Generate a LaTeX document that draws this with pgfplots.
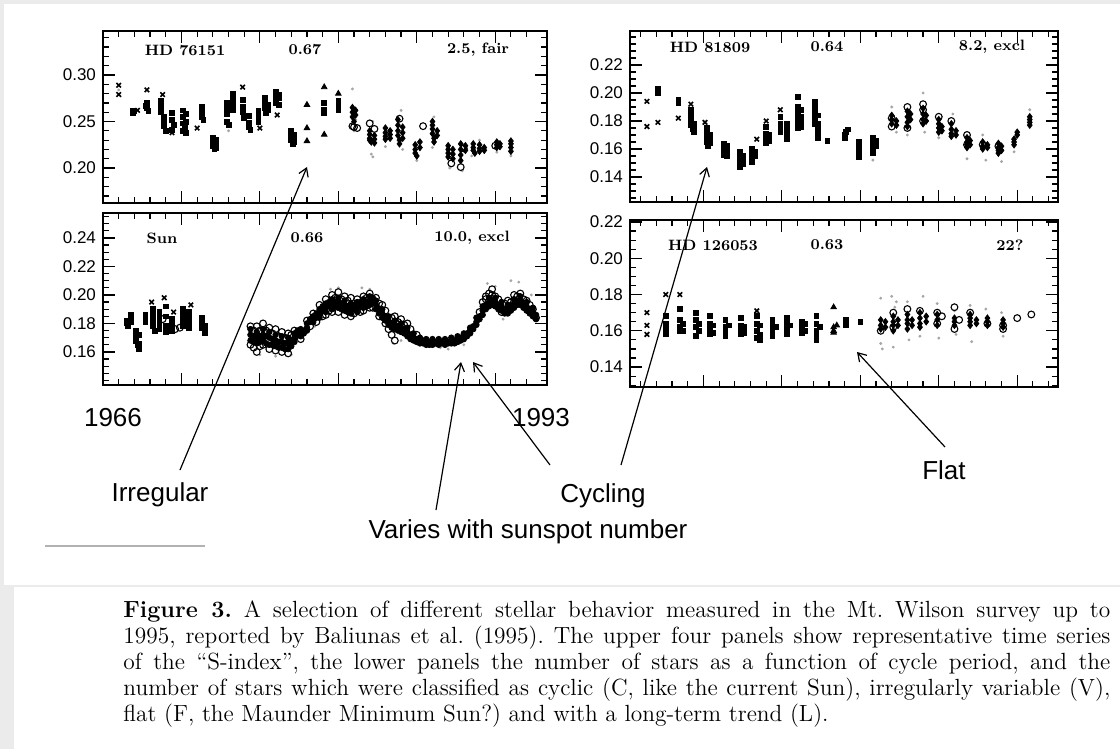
\documentclass[border=0pt]{standalone}
\usepackage{fontspec}
\usepackage{pgfplots}
\pgfplotsset{compat=1.18}
\usetikzlibrary{arrows.meta}
\newfontfamily\sansf{Liberation Sans}
\newcommand\tickfont{\sansf\fontsize{8.5}{9}\selectfont}
\newcommand\labfont{\sansf\fontsize{13}{15}\selectfont}
\newcommand\panfont{\bfseries\fontsize{7.5}{8}\selectfont}
\pgfplotsset{
 panel/.style={scale only axis, anchor=north west,
  axis line style={line width=0.9pt},
  tick align=inside, major tick length=6pt, minor tick length=3pt,
  every tick/.style={black, line width=0.6pt},
  xtick={1970,1975,...,1990}, minor xtick={1966,1967,...,1992}, xticklabels={},
  /pgf/number format/assume math mode=true,
  yticklabel style={font=\tickfont, /pgf/number format/fixed, /pgf/number format/fixed zerofill, /pgf/number format/precision=2},
  clip=true},
 sq/.style={only marks, mark=square*, mark size=1.2pt, black},
 xm/.style={only marks, mark=x, mark size=1.6pt, black, mark options={line width=0.8pt}},
 tr/.style={only marks, mark=triangle*, mark size=1.6pt, black},
 ci/.style={only marks, mark=o, mark size=1.7pt, black, mark options={line width=0.55pt}},
 dm/.style={only marks, mark=diamond*, mark size=1.6pt, black},
 gd/.style={only marks, mark=*, mark size=0.5pt, black!35},
 fd/.style={only marks, mark=*, mark size=1.4pt, black},
}
\begin{document}
\begin{tikzpicture}
\useasboundingbox (0,0) rectangle (560pt,-374.5pt);
\fill[black!8] (0,0) rectangle (560pt,-374.5pt);
\fill[white] (2pt,-2pt) rectangle (560pt,-292.5pt);
\fill[white] (7pt,-293.5pt) rectangle (560pt,-374.5pt);

% ---------- HD 76151 ----------
\begin{axis}[panel, at={(51.5pt,-15.5pt)}, width=222pt, height=86pt,
  xmin=1965, xmax=1993.3, ymin=0.1624, ymax=0.3473,
  ytick={0.20,0.25,0.30}, minor ytick={0.17,0.18,0.19,0.21,0.22,0.23,0.24,0.26,0.27,0.28,0.29,0.31,0.32,0.33,0.34}]
\addplot[gd] coordinates {(1966.0,0.284)(1973.0,0.240)(1980.9,0.285)(1981.0,0.240)(1982.1,0.215)(1982.2,0.212)(1983.0,0.223)(1984.0,0.262)(1984.1,0.220)(1985.0,0.208)(1986.0,0.222)(1986.1,0.255)(1987.1,0.200)(1987.9,0.197)(1988.5,0.213)(1989.0,0.230)(1990.1,0.217)(1991.0,0.213)(1981.1,0.252)(1982.2,0.250)};
\addplot[xm] coordinates {(1966.0,0.289)(1966.0,0.279)(1967.8,0.284)(1968.8,0.279)(1971.0,0.243)(1973.9,0.287)(1975.0,0.243)(1976.1,0.257)(1967.2,0.262)(1969.4,0.238)};
\addplot[sq] coordinates {(1966.9,0.262)(1966.9,0.259)(1967.0,0.261)
(1967.8,0.270)(1967.8,0.265)(1967.9,0.261)(1967.7,0.267)
(1968.7,0.272)(1968.7,0.266)(1968.7,0.260)
(1968.9,0.255)(1968.9,0.250)(1968.9,0.245)(1969.0,0.240)
(1969.4,0.259)(1969.4,0.252)(1969.5,0.246)(1969.4,0.241)
(1970.1,0.262)(1970.1,0.255)(1970.1,0.248)(1970.2,0.243)(1970.1,0.240)
(1970.3,0.258)(1970.3,0.250)(1970.3,0.238)
(1971.3,0.266)(1971.3,0.260)(1971.3,0.255)(1971.4,0.252)
(1972.0,0.232)(1972.0,0.228)(1972.0,0.224)(1972.1,0.220)
(1972.2,0.230)(1972.2,0.226)(1972.2,0.222)
(1972.9,0.270)(1972.9,0.265)(1972.9,0.258)(1972.9,0.250)(1973.0,0.246)
(1973.3,0.280)(1973.3,0.274)(1973.3,0.268)(1973.3,0.262)
(1973.9,0.273)(1973.9,0.266)(1973.9,0.260)(1974.0,0.254)
(1974.3,0.256)(1974.3,0.249)(1974.3,0.244)(1974.4,0.241)
(1974.9,0.262)(1974.9,0.256)(1974.9,0.250)
(1975.3,0.276)(1975.3,0.270)(1975.3,0.264)(1975.4,0.259)
(1975.5,0.268)(1975.5,0.262)
(1976.0,0.282)(1976.0,0.278)(1976.0,0.274)(1976.0,0.270)
(1976.2,0.279)(1976.2,0.275)(1976.2,0.268)
(1977.0,0.240)(1977.0,0.235)(1977.0,0.230)(1977.1,0.226)
(1977.2,0.236)(1977.2,0.232)(1977.2,0.228)
(1979.1,0.270)(1979.1,0.263)(1979.1,0.259)
(1980.0,0.272)(1980.0,0.266)(1980.0,0.262)};
\addplot[tr] coordinates {(1978.0,0.268)(1978.0,0.243)(1978.0,0.229)(1979.1,0.287)(1979.1,0.236)(1980.0,0.280)};
\addplot[dm] coordinates {(1980.9,0.265)(1980.9,0.260)(1980.9,0.255)(1981.0,0.250)
(1981.1,0.262)(1981.1,0.257)
(1982.0,0.240)(1982.0,0.236)(1982.0,0.232)(1982.0,0.230)(1982.1,0.228)
(1982.3,0.235)(1982.3,0.231)(1982.3,0.227)
(1983.0,0.243)(1983.0,0.238)(1983.0,0.234)(1983.0,0.231)
(1983.3,0.240)(1983.3,0.236)(1983.3,0.232)
(1983.8,0.252)(1983.8,0.246)(1983.8,0.240)(1983.8,0.235)(1983.9,0.230)(1983.9,0.226)
(1984.1,0.244)(1984.1,0.238)(1984.1,0.232)
(1984.9,0.225)(1984.9,0.220)(1984.9,0.216)(1985.0,0.213)
(1985.2,0.228)(1985.2,0.222)
(1986.0,0.250)(1986.0,0.246)(1986.0,0.242)(1986.0,0.237)(1986.1,0.232)(1986.1,0.228)
(1986.3,0.240)(1986.3,0.235)
(1987.0,0.224)(1987.0,0.220)(1987.0,0.216)(1987.0,0.212)
(1987.3,0.220)(1987.3,0.215)(1987.3,0.210)
(1987.8,0.226)(1987.8,0.220)(1987.8,0.214)(1987.8,0.208)
(1988.1,0.224)(1988.1,0.219)
(1988.6,0.226)(1988.6,0.222)(1988.6,0.219)(1988.7,0.216)
(1989.0,0.225)(1989.0,0.221)(1989.0,0.218)
(1989.3,0.222)(1989.3,0.219)
(1990.1,0.228)(1990.1,0.225)(1990.1,0.222)
(1990.3,0.226)(1990.3,0.223)
(1991.0,0.229)(1991.0,0.226)(1991.0,0.222)(1991.0,0.218)};
\addplot[ci] coordinates {(1980.9,0.245)(1981.2,0.243)(1982.0,0.248)(1982.3,0.242)(1983.9,0.253)(1985.4,0.245)(1987.2,0.205)(1987.8,0.201)(1988.0,0.221)(1990.0,0.224)(1981.0,0.244)};
\end{axis}

% ---------- Sun ----------
\begin{axis}[panel, at={(51.5pt,-106.5pt)}, width=222pt, height=86pt,
  xmin=1965, xmax=1993.3, ymin=0.1368, ymax=0.2575,
  ytick={0.16,0.18,0.20,0.22,0.24}, minor ytick={0.14,0.145,0.15,0.155,0.165,0.17,0.175,0.185,0.19,0.195,0.205,0.21,0.215,0.225,0.23,0.235,0.245,0.25,0.255}]
\addplot[gd] coordinates {(1989.5,0.208)(1990.0,0.206)(1991.5,0.209)(1991.0,0.210)(1980.0,0.205)(1979.5,0.204)(1981.5,0.205)(1975.0,0.158)(1977.0,0.158)(1983.5,0.166)(1986.5,0.163)(1987.0,0.162)(1988.0,0.165)(1982.0,0.204)(1992.3,0.200)(1978.5,0.178)(1984.0,0.168)(1976.0,0.157)(1990.5,0.183)};
\addplot[xm] coordinates {(1968.1,0.195)(1968.9,0.198)(1970.6,0.193)(1969.5,0.188)};
\addplot[sq] coordinates {(1966.5,0.182)(1966.5,0.180)(1966.6,0.178)
(1966.8,0.186)(1966.8,0.183)(1966.8,0.181)
(1967.1,0.175)(1967.1,0.171)(1967.1,0.168)(1967.2,0.165)
(1967.3,0.172)(1967.3,0.166)(1967.3,0.162)
(1967.7,0.186)(1967.7,0.184)(1967.7,0.181)
(1968.2,0.190)(1968.2,0.186)(1968.2,0.182)(1968.2,0.178)(1968.3,0.175)
(1968.6,0.188)(1968.6,0.184)(1968.6,0.180)(1968.6,0.176)
(1969.0,0.192)(1969.0,0.185)(1969.0,0.178)(1969.0,0.174)
(1969.4,0.183)(1969.4,0.180)(1969.4,0.177)(1969.4,0.175)
(1970.1,0.190)(1970.1,0.186)(1970.1,0.182)(1970.1,0.178)
(1970.5,0.188)(1970.5,0.184)(1970.5,0.180)(1970.5,0.177)
(1971.3,0.184)(1971.3,0.180)(1971.3,0.177)
(1971.5,0.178)(1971.5,0.175)(1971.5,0.173)};
\addplot[ci] coordinates {(1969.6,0.176)(1969.9,0.177)(1968.8,0.183)
(1974.4,0.178)(1974.4,0.165)(1974.6,0.175)(1974.6,0.163)(1974.8,0.160)(1974.8,0.178)(1975.0,0.175)(1975.0,0.164)
(1975.2,0.180)(1975.2,0.165)(1975.4,0.175)(1975.6,0.162)(1975.6,0.177)(1975.8,0.173)(1976.0,0.176)(1976.0,0.161)
(1976.2,0.171)(1976.4,0.160)(1976.4,0.174)(1976.6,0.170)(1976.8,0.159)(1976.8,0.173)(1977.0,0.172)(1977.2,0.175)
(1977.6,0.169)(1978.0,0.182)(1978.2,0.178)(1978.4,0.187)(1978.6,0.181)(1978.8,0.193)(1979.0,0.185)
(1979.2,0.197)(1979.2,0.186)(1979.4,0.189)(1979.6,0.200)(1979.6,0.188)(1979.8,0.198)(1980.0,0.202)(1980.0,0.188)
(1980.2,0.197)(1980.4,0.186)(1980.4,0.199)(1980.6,0.196)(1980.8,0.185)(1980.8,0.198)(1981.0,0.187)(1981.2,0.197)
(1981.4,0.188)(1981.6,0.199)(1981.6,0.189)(1981.8,0.198)(1982.0,0.201)(1982.0,0.191)(1982.2,0.191)(1982.4,0.198)
(1982.6,0.194)(1982.6,0.185)(1982.8,0.193)(1983.0,0.189)(1983.0,0.180)(1983.2,0.176)(1983.4,0.184)(1983.4,0.172)
(1983.6,0.168)(1983.6,0.185)(1983.8,0.181)(1984.0,0.183)(1984.2,0.179)(1984.4,0.180)(1984.6,0.176)(1985.0,0.172)
(1989.0,0.188)(1989.2,0.195)(1989.4,0.197)(1989.4,0.199)(1989.6,0.201)(1989.8,0.200)(1989.8,0.204)(1990.0,0.199)
(1990.2,0.197)(1990.4,0.188)(1990.6,0.194)(1990.8,0.196)(1991.0,0.195)(1991.2,0.200)(1991.4,0.199)(1991.6,0.201)
(1991.8,0.197)(1992.0,0.196)(1992.2,0.193)(1992.4,0.190)(1992.6,0.184)};
\addplot[fd] coordinates {(1974.4,0.172)(1974.4,0.168)(1974.4,0.176)(1974.6,0.171)(1974.6,0.167)(1974.8,0.170)(1974.8,0.174)(1974.8,0.166)
(1975.0,0.171)(1975.0,0.167)(1975.2,0.172)(1975.2,0.168)(1975.2,0.176)(1975.4,0.171)(1975.4,0.166)
(1975.6,0.170)(1975.6,0.174)(1975.6,0.165)(1975.8,0.169)(1975.8,0.165)(1976.0,0.168)(1976.0,0.172)(1976.0,0.164)
(1976.2,0.167)(1976.2,0.163)(1976.4,0.167)(1976.4,0.171)(1976.4,0.163)(1976.6,0.166)(1976.6,0.162)
(1976.8,0.166)(1976.8,0.170)(1976.8,0.162)(1977.0,0.168)(1977.0,0.164)(1977.2,0.170)(1977.2,0.173)(1977.2,0.167)
(1977.4,0.172)(1977.4,0.175)(1977.6,0.173)(1977.6,0.171)(1977.6,0.176)(1977.8,0.175)(1977.8,0.173)
(1978.0,0.177)(1978.0,0.180)(1978.0,0.175)(1978.2,0.181)(1978.2,0.183)(1978.4,0.183)(1978.4,0.185)(1978.4,0.181)
(1978.6,0.184)(1978.6,0.187)(1978.8,0.187)(1978.8,0.190)(1978.8,0.184)(1979.0,0.189)(1979.0,0.192)
(1979.2,0.191)(1979.2,0.194)(1979.2,0.188)(1979.4,0.192)(1979.4,0.195)(1979.6,0.194)(1979.6,0.197)(1979.6,0.190)
(1979.8,0.195)(1979.8,0.192)(1980.0,0.195)(1980.0,0.198)(1980.0,0.191)(1980.2,0.194)(1980.2,0.190)
(1980.4,0.193)(1980.4,0.196)(1980.4,0.189)(1980.6,0.192)(1980.6,0.188)(1980.8,0.191)(1980.8,0.194)(1980.8,0.187)
(1981.0,0.190)(1981.0,0.193)(1981.2,0.191)(1981.2,0.188)(1981.2,0.195)(1981.4,0.192)(1981.4,0.195)
(1981.6,0.194)(1981.6,0.191)(1981.6,0.197)(1981.8,0.195)(1981.8,0.192)(1982.0,0.196)(1982.0,0.193)(1982.0,0.199)
(1982.2,0.195)(1982.2,0.198)(1982.4,0.193)(1982.4,0.190)(1982.4,0.196)(1982.6,0.190)(1982.6,0.187)
(1982.8,0.187)(1982.8,0.184)(1982.8,0.190)(1983.0,0.185)(1983.0,0.182)(1983.2,0.182)(1983.2,0.179)(1983.2,0.185)
(1983.4,0.180)(1983.4,0.177)(1983.6,0.179)(1983.6,0.176)(1983.6,0.182)(1983.8,0.178)(1983.8,0.175)
(1984.0,0.177)(1984.0,0.174)(1984.0,0.180)(1984.2,0.176)(1984.2,0.173)(1984.4,0.174)(1984.4,0.171)(1984.4,0.177)
(1984.6,0.172)(1984.6,0.169)(1984.8,0.170)(1984.8,0.168)(1984.8,0.173)(1985.0,0.169)(1985.0,0.167)
(1985.2,0.168)(1985.2,0.166)(1985.2,0.170)(1985.4,0.168)(1985.4,0.166)(1985.6,0.167)(1985.6,0.165)(1985.6,0.169)
(1985.8,0.167)(1985.8,0.165)(1986.0,0.167)(1986.0,0.165)(1986.0,0.169)(1986.2,0.167)(1986.2,0.166)
(1986.4,0.167)(1986.4,0.165)(1986.4,0.169)(1986.6,0.167)(1986.6,0.166)(1986.8,0.167)(1986.8,0.165)(1986.8,0.169)
(1987.0,0.167)(1987.0,0.166)(1987.2,0.168)(1987.2,0.166)(1987.2,0.170)(1987.4,0.168)(1987.4,0.166)
(1987.6,0.169)(1987.6,0.167)(1987.6,0.171)(1987.8,0.170)(1987.8,0.168)(1988.0,0.171)(1988.0,0.169)(1988.0,0.173)
(1988.2,0.173)(1988.2,0.171)(1988.4,0.175)(1988.4,0.173)(1988.4,0.177)(1988.6,0.178)(1988.6,0.176)
(1988.8,0.181)(1988.8,0.179)(1988.8,0.184)(1989.0,0.185)(1989.0,0.183)(1989.2,0.189)(1989.2,0.186)(1989.2,0.192)
(1989.4,0.193)(1989.4,0.190)(1989.6,0.195)(1989.6,0.192)(1989.6,0.198)(1989.8,0.196)(1989.8,0.193)
(1990.0,0.195)(1990.0,0.192)(1990.0,0.198)(1990.2,0.193)(1990.2,0.190)(1990.4,0.192)(1990.4,0.189)(1990.4,0.195)
(1990.6,0.190)(1990.6,0.187)(1990.8,0.190)(1990.8,0.193)(1990.8,0.187)(1991.0,0.192)(1991.0,0.189)
(1991.2,0.194)(1991.2,0.191)(1991.2,0.197)(1991.4,0.196)(1991.4,0.193)(1991.6,0.196)(1991.6,0.193)(1991.6,0.199)
(1991.8,0.194)(1991.8,0.191)(1992.0,0.192)(1992.0,0.189)(1992.0,0.195)(1992.2,0.190)(1992.2,0.187)
(1992.4,0.188)(1992.4,0.185)(1992.4,0.191)(1992.6,0.186)(1992.6,0.183)};
\end{axis}

% ---------- HD 81809 ----------
\begin{axis}[panel, at={(315pt,-15.5pt)}, width=214pt, height=85.5pt,
  xmin=1965.32, xmax=1992.6, ymin=0.1221, ymax=0.2443,
  ytick={0.14,0.16,0.18,0.20,0.22}, minor ytick={0.125,0.13,0.135,0.145,0.15,0.155,0.165,0.17,0.175,0.185,0.19,0.195,0.205,0.21,0.215,0.225,0.23,0.235,0.24}]
\addplot[gd] coordinates {(1982.0,0.190)(1984.0,0.200)(1984.1,0.172)(1986.8,0.153)(1988.0,0.152)(1989.0,0.151)(1990.8,0.188)(1983.0,0.170)(1985.0,0.168)(1985.9,0.185)(1987.8,0.170)(1989.8,0.158)(1980.8,0.152)(1982.3,0.172)};
\addplot[xm] coordinates {(1966.4,0.194)(1966.4,0.176)(1967.1,0.179)(1968.4,0.182)(1969.2,0.192)(1970.1,0.179)(1973.4,0.167)(1974.0,0.180)(1974.9,0.188)};
\addplot[sq] coordinates {(1967.1,0.203)(1967.1,0.200)
(1968.4,0.195)(1968.4,0.193)
(1969.2,0.188)(1969.2,0.184)(1969.2,0.180)(1969.2,0.177)(1969.3,0.174)
(1969.4,0.178)(1969.4,0.175)(1969.4,0.172)
(1970.2,0.175)(1970.2,0.171)(1970.2,0.168)(1970.2,0.165)(1970.3,0.162)
(1970.4,0.170)(1970.4,0.167)(1970.4,0.164)
(1971.3,0.164)(1971.3,0.161)(1971.3,0.158)(1971.3,0.156)
(1971.5,0.162)(1971.5,0.159)(1971.5,0.155)
(1972.3,0.158)(1972.3,0.154)(1972.3,0.151)(1972.3,0.147)
(1972.5,0.155)(1972.5,0.152)(1972.5,0.149)
(1973.1,0.160)(1973.1,0.157)(1973.1,0.154)(1973.1,0.151)
(1973.3,0.158)(1973.3,0.155)
(1974.0,0.176)(1974.0,0.171)(1974.0,0.167)(1974.0,0.164)
(1974.2,0.170)(1974.2,0.166)
(1974.9,0.183)(1974.9,0.178)(1974.9,0.175)(1974.9,0.172)
(1975.3,0.178)(1975.3,0.174)(1975.3,0.170)(1975.3,0.167)
(1976.0,0.197)(1976.0,0.190)(1976.0,0.186)(1976.0,0.182)(1976.0,0.178)(1976.0,0.175)
(1976.2,0.188)(1976.2,0.183)(1976.2,0.179)(1976.2,0.176)
(1977.1,0.194)(1977.1,0.190)(1977.1,0.186)(1977.1,0.182)(1977.1,0.178)
(1977.3,0.184)(1977.3,0.178)(1977.3,0.174)(1977.3,0.170)(1977.3,0.168)
(1977.9,0.166)
(1979.0,0.170)(1979.0,0.168)(1979.1,0.172)(1979.2,0.174)
(1979.9,0.165)(1979.9,0.162)(1979.9,0.158)(1979.9,0.154)
(1980.8,0.168)(1980.8,0.164)(1980.8,0.160)(1980.8,0.157)
(1981.0,0.166)(1981.0,0.162)};
\addplot[dm] coordinates {(1982.0,0.184)(1982.0,0.181)(1982.0,0.178)(1982.3,0.180)(1982.3,0.177)
(1983.0,0.187)(1983.0,0.183)(1983.0,0.179)(1983.0,0.176)(1983.2,0.185)(1983.2,0.181)
(1984.0,0.189)(1984.0,0.185)(1984.0,0.181)(1984.0,0.178)(1984.2,0.184)(1984.2,0.180)
(1985.0,0.181)(1985.0,0.178)(1985.0,0.175)(1985.0,0.172)(1985.2,0.176)(1985.2,0.173)
(1985.8,0.178)(1985.8,0.174)(1985.8,0.171)(1985.8,0.169)(1986.1,0.173)(1986.1,0.170)
(1986.8,0.168)(1986.8,0.165)(1986.8,0.163)(1986.8,0.161)(1987.0,0.166)(1987.0,0.163)
(1987.8,0.165)(1987.8,0.162)(1987.8,0.160)(1988.1,0.163)(1988.1,0.161)
(1988.8,0.164)(1988.8,0.161)(1988.8,0.159)(1988.8,0.157)(1989.0,0.162)(1989.0,0.159)
(1989.8,0.167)(1989.8,0.165)(1989.8,0.163)(1990.0,0.170)(1990.0,0.172)
(1990.8,0.183)(1990.8,0.181)(1990.8,0.179)(1990.8,0.177)};
\addplot[ci] coordinates {(1982.0,0.176)(1982.0,0.182)(1983.0,0.190)(1983.0,0.175)(1984.0,0.192)(1984.0,0.188)(1984.0,0.180)(1985.0,0.183)(1985.8,0.180)(1986.8,0.170)(1986.8,0.163)(1987.8,0.163)(1988.8,0.162)};
\end{axis}

% ---------- HD 126053 ----------
\begin{axis}[panel, at={(315pt,-110pt)}, width=214pt, height=83.5pt,
  xmin=1965.32, xmax=1992.6, ymin=0.129, ymax=0.2211,
  ytick={0.14,0.16,0.18,0.20,0.22}, minor ytick={0.13,0.135,0.145,0.15,0.155,0.165,0.17,0.175,0.185,0.19,0.195,0.205,0.21,0.215}]
\addplot[gd] coordinates {(1981.3,0.178)(1981.3,0.153)(1981.4,0.150)(1982.0,0.179)(1982.1,0.151)(1982.3,0.176)(1983.0,0.176)(1983.1,0.155)(1984.0,0.179)(1984.9,0.175)(1986.0,0.171)(1987.0,0.174)(1987.1,0.154)(1988.0,0.172)(1989.0,0.170)(1989.1,0.157)(1985.0,0.156)(1986.1,0.158)(1982.2,0.173)(1983.8,0.157)};
\addplot[xm] coordinates {(1966.4,0.170)(1966.4,0.163)(1966.4,0.158)(1967.6,0.180)(1968.5,0.180)(1973.4,0.171)};
\addplot[sq] coordinates {(1967.6,0.168)(1967.6,0.164)(1967.6,0.161)(1967.6,0.158)
(1968.5,0.172)(1968.5,0.166)(1968.5,0.162)(1968.5,0.160)(1968.7,0.164)(1968.7,0.160)
(1969.5,0.170)(1969.5,0.166)(1969.5,0.162)(1969.5,0.157)(1969.7,0.164)(1969.7,0.160)
(1970.4,0.168)(1970.4,0.164)(1970.4,0.161)(1970.4,0.158)(1970.6,0.163)(1970.6,0.159)
(1971.4,0.166)(1971.4,0.162)(1971.4,0.159)(1971.4,0.157)(1971.6,0.163)
(1972.4,0.167)(1972.4,0.163)(1972.4,0.160)(1972.4,0.158)(1972.6,0.162)(1972.6,0.159)
(1973.4,0.168)(1973.4,0.164)(1973.4,0.160)(1973.4,0.156)(1973.6,0.163)(1973.6,0.158)(1973.6,0.155)
(1974.4,0.166)(1974.4,0.163)(1974.4,0.160)(1974.4,0.157)(1974.6,0.162)
(1975.3,0.167)(1975.3,0.164)(1975.3,0.161)(1975.3,0.158)(1975.5,0.163)
(1976.3,0.165)(1976.3,0.162)(1976.3,0.159)(1976.5,0.164)(1976.5,0.160)
(1977.2,0.168)(1977.2,0.164)(1977.2,0.160)(1977.2,0.157)(1977.2,0.155)(1977.4,0.162)
(1979.1,0.166)(1979.1,0.164)(1979.1,0.163)(1980.0,0.165)};
\addplot[tr] coordinates {(1978.3,0.173)(1978.3,0.162)(1978.3,0.160)(1978.3,0.159)(1978.5,0.163)};
\addplot[dm] coordinates {(1981.3,0.166)(1981.3,0.163)(1981.3,0.161)(1981.6,0.165)(1981.6,0.162)
(1982.1,0.168)(1982.1,0.165)(1982.1,0.163)(1982.1,0.160)(1982.4,0.166)(1982.4,0.163)
(1983.0,0.169)(1983.0,0.166)(1983.0,0.164)(1983.0,0.161)(1983.3,0.166)(1983.3,0.163)
(1983.8,0.170)(1983.8,0.167)(1983.8,0.164)(1983.8,0.162)(1984.2,0.168)(1984.2,0.165)
(1984.9,0.169)(1984.9,0.166)(1984.9,0.163)
(1986.0,0.167)(1986.0,0.165)(1986.0,0.163)
(1987.0,0.169)(1987.0,0.167)(1987.0,0.165)(1987.0,0.163)(1987.4,0.166)(1987.4,0.164)
(1988.1,0.167)(1988.1,0.165)(1988.1,0.163)
(1989.1,0.166)(1989.1,0.164)(1989.1,0.162)};
\addplot[ci] coordinates {(1981.3,0.160)(1982.1,0.170)(1982.1,0.162)(1983.0,0.172)(1983.8,0.171)(1984.9,0.170)(1984.9,0.164)(1985.2,0.168)(1986.0,0.173)(1986.0,0.161)(1986.3,0.166)(1987.0,0.170)(1988.1,0.164)(1989.1,0.161)(1989.1,0.163)(1990.0,0.167)(1990.9,0.169)};
\end{axis}

\begin{scope}[x=0.5pt,y=-0.5pt]
% panel labels
\node[font=\panfont] at (185,50) {HD 76151};
\node[font=\panfont] at (305,50) {0.67};
\node[font=\panfont] at (478,50) {2.5, fair};
\node[font=\panfont] at (162,238) {Sun};
\node[font=\panfont] at (307,238) {0.66};
\node[font=\panfont] at (472,238) {10.0, excl};
\node[font=\panfont] at (710,47) {HD 81809};
\node[font=\panfont] at (827,47) {0.64};
\node[font=\panfont] at (992,47) {8.2, excl};
\node[font=\panfont] at (713,245) {HD 126053};
\node[font=\panfont] at (827,245) {0.63};
\node[font=\panfont] at (1010,245) {22?};
% arrows
\begin{scope}[line width=0.6pt, -{Straight Barb[length=4pt,width=5pt]}]
\draw (180,470) -- (307,167);
\draw (436,510) -- (461,362);
\draw (550,465) -- (473,362);
\draw (621,465) -- (707,167);
\draw (945,447) -- (857,352);
\end{scope}
\node[font=\labfont] at (113,418) {1966};
\node[font=\labfont] at (541,418) {1993};
\node[font=\labfont] at (160,495) {Irregular};
\node[font=\labfont] at (603,496) {Cycling};
\node[font=\labfont] at (528,532) {Varies with sunspot number};
\node[font=\labfont] at (944,470) {Flat};
\draw[black!30, line width=1pt] (45,546) -- (205,546);
% caption
\begin{scope}[every node/.style={anchor=base west, inner sep=0pt, font=\frenchspacing\fontsize{11.7}{13}\selectfont}]
\node at (123,617) {\makebox[493.5pt][s]{\textbf{Figure 3.} A selection of different stellar behavior measured in the Mt. Wilson survey up to}};
\node at (123,643) {\makebox[493.5pt][s]{1995, reported by Baliunas et al. (1995). The upper four panels show representative time series}};
\node at (123,669) {\makebox[493.5pt][s]{of the ``S-index'', the lower panels the number of stars as a function of cycle period, and the}};
\node at (123,695) {\makebox[493.5pt][s]{number of stars which were classified as cyclic (C, like the current Sun), irregularly variable (V),}};
\node at (123,721) {flat (F, the Maunder Minimum Sun?) and with a long-term trend (L).};
\end{scope}
\end{scope}
\end{tikzpicture}
\end{document}
